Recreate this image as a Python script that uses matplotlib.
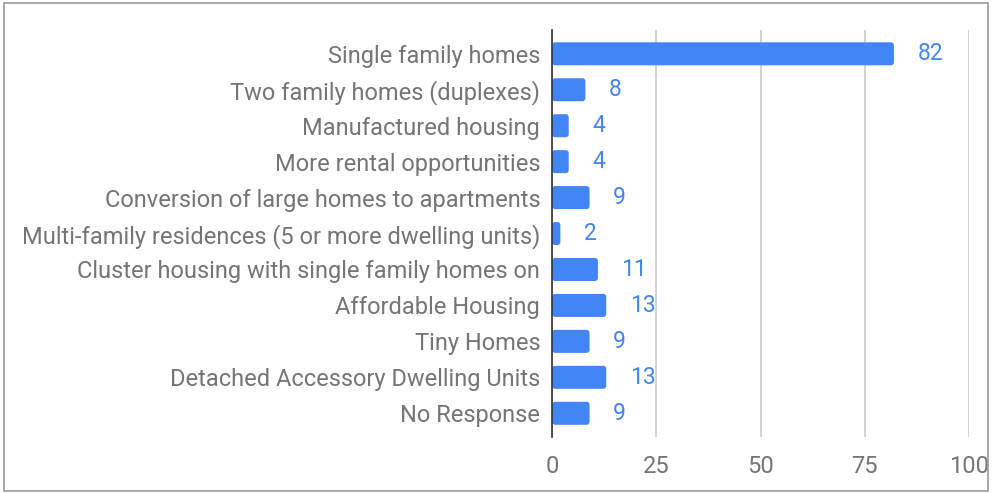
import matplotlib.pyplot as plt
from matplotlib.patches import Rectangle, FancyBboxPatch

# Survey responses: preferred housing types
categories = [
    "Single family homes",
    "Two family homes (duplexes)",
    "Manufactured housing",
    "More rental opportunities",
    "Conversion of large homes to apartments",
    "Multi-family residences (5 or more dwelling units)",
    "Cluster housing with single family homes on",
    "Affordable Housing",
    "Tiny Homes",
    "Detached Accessory Dwelling Units",
    "No Response",
]
counts = [82, 8, 4, 4, 9, 2, 11, 13, 9, 13, 9]
x_ticks = [0, 25, 50, 75, 100]

blue = "#4285F4"
gray_text = "#757575"

plt.rcParams['font.family'] = ['Roboto', 'DejaVu Sans']

fig = plt.figure(figsize=(9.92, 4.93), dpi=100)
ax = fig.add_axes([0.5565, 0.1136, 0.4203, 0.8254])

y = list(range(len(categories)))
bars = ax.barh(y, counts, height=0.64, color=blue, zorder=3)
# swap plain rectangles for slightly rounded ones
for b in bars:
    b.set_visible(False)
    ax.add_patch(FancyBboxPatch((b.get_x(), b.get_y()), b.get_width(), b.get_height(),
                                boxstyle="round,pad=0,rounding_size=0.7",
                                mutation_aspect=0.12, facecolor=blue,
                                edgecolor="none", zorder=3))
for yi, v in zip(y, counts):
    ax.annotate(str(v), (v, yi), xytext=(17, 0), textcoords="offset points",
                va="center", ha="left", color=blue, fontsize=16.5)

ax.set_ylim(10.66, -0.66)
ax.set_xlim(0, 100)
ax.set_yticks(y)
ax.set_yticklabels(categories, fontsize=17, color=gray_text)
ax.set_xticks(x_ticks)
ax.set_xticklabels([str(t) for t in x_ticks], fontsize=17, color=gray_text)
ax.tick_params(axis="both", length=0)
ax.tick_params(axis="y", pad=8.5)
ax.tick_params(axis="x", pad=13)
ax.grid(axis="x", color="#cccccc", linewidth=1.2, zorder=0)

for s in ["top", "right", "bottom"]:
    ax.spines[s].set_visible(False)
ax.spines["left"].set_color("#333333")
ax.spines["left"].set_linewidth(1.2)
ax.spines["left"].set_zorder(4)

# thin frame around the whole picture
fig.patches.append(Rectangle((0.004, 0.004), 0.992, 0.99, transform=fig.transFigure,
                             fill=False, edgecolor="#999999", linewidth=1.2))

fig.savefig("out.png", dpi=100)
